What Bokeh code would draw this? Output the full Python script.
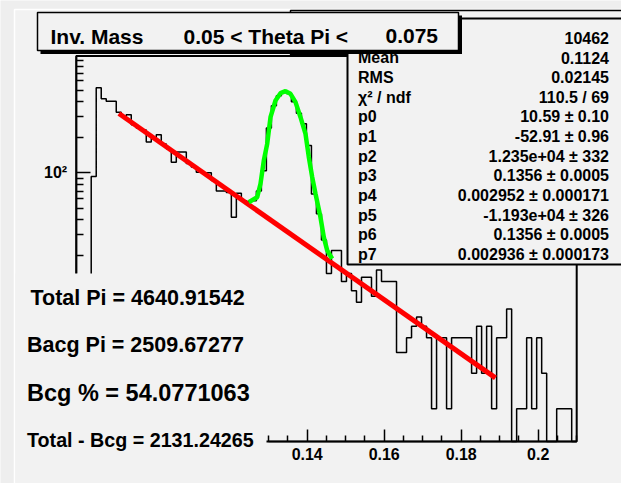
from bokeh.plotting import figure
from bokeh.models import (LinearAxis, LogAxis, FixedTicker, BoxAnnotation, Label, Range1d)
from bokeh.embed import file_html
from bokeh.resources import INLINE

# ---------------- data ----------------
bin_lo, bin_hi, nbins = 0.08, 0.21, 100
counts = [0, 0, 0, 93, 525, 424, 404, 404, 326, 300,
          310, 255, 240, 230, 182, 195, 210, 175, 160, 123,
          150, 150, 120, 112, 101, 100, 100, 86, 70, 70,
          68, 42, 67, 58, 57, 58, 70, 104, 240, 370,
          450, 480, 470, 400, 320, 260, 170, 66, 45, 27,
          14, 22, 22, 12, 14, 10, 8, 13, 13, 9,
          15, 12, 12, 12, 3, 3, 4, 5, 6, 5,
          4, 1, 4, 4, 1, 4, 4, 4, 4, 2,
          5, 2, 5, 1, 4, 4, 7, 0, 1, 1,
          4, 1, 4, 2, 0, 0, 1, 1, 1, 0]

# background fit (red)
bg_x = [0.0911, 0.1889]
bg_y = [318, 1.83]

# total fit (green)
peak_x = [0.12483, 0.12701, 0.12787, 0.12873, 0.12961, 0.13047, 0.13177, 0.13306,
          0.13436, 0.13566, 0.13696, 0.13826, 0.13956, 0.14042, 0.1413, 0.14216,
          0.14345, 0.14431, 0.14519, 0.14649]
peak_y = [56.3, 62.1, 80.7, 127, 176, 296, 410, 473,
          492, 467, 397, 296, 214, 136, 91.8, 66.4,
          42, 28.5, 22, 18.7]

# axes
x_major = [0.14, 0.16, 0.18, 0.2]
x_labels = ["0.14", "0.16", "0.18", "0.2"]
x_minor = [0.13, 0.135, 0.145, 0.15, 0.155, 0.165, 0.17, 0.175,
           0.185, 0.19, 0.195, 0.205, 0.21]
y_major = [100]
y_labels = ["10\u00b2"]
y_minor = [20, 30, 40, 50, 60, 70, 80, 90, 200, 300, 400, 500, 600, 700, 800, 900]

title_parts = ["Inv. Mass", "0.05 < Theta Pi <", "0.075"]

stat_labels = ["Entries", "Mean", "RMS", "\u03c7\u00b2 / ndf", "p0", "p1", "p2", "p3",
               "p4", "p5", "p6", "p7"]
stat_values = ["10462", "0.1124", "0.02145", "110.5 / 69", "10.59 \u00b1 0.10",
               "-52.91 \u00b1 0.96", "1.235e+04 \u00b1 332", "0.1356 \u00b1 0.0005",
               "0.002952 \u00b1 0.000171", "-1.193e+04 \u00b1 326", "0.1356 \u00b1 0.0005",
               "0.002936 \u00b1 0.000173"]

notes = ["Total Pi = 4640.91542", "Bacg Pi = 2509.67277",
         "Bcg % = 54.0771063", "Total - Bcg = 2131.24265"]

# ---------------- layout (pixels of the 621x483 canvas) ----------------
W, H = 621, 483
PX0, PXU = 75.7, 3850.0          # pixel of x=0.08, pixels per unit
PY1, PYD = 408.3, 118.0          # pixel of y=1, pixels per decade
x_start = bin_lo - PX0 / PXU
x_end = x_start + W / PXU
y_end = 10 ** (PY1 / PYD)
y_start = 10 ** (-(H - PY1) / PYD)


def dx(px):
    return x_start + px / PXU


def dy(py):
    return 10 ** ((PY1 - py) / PYD)


def ty(baseline_py, size):
    # empirical correction of the text baseline
    return dy(baseline_py - 0.33 * size)


frame_bottom = dy(441)
frame_top = dy(55.5)

OUTER = "#eeeeee"
INNER = "#f2f2f2"
FONT = "Liberation Sans"

p = figure(width=W, height=H, x_range=Range1d(x_start, x_end),
           y_range=Range1d(y_start, y_end), y_axis_type="log",
           x_axis_location=None, y_axis_location=None,
           toolbar_location=None, min_border=0, output_backend="svg",
           background_fill_color=OUTER, border_fill_color=OUTER,
           outline_line_color=None)
p.xgrid.grid_line_color = None
p.ygrid.grid_line_color = None


def box(l, r, t, b, fill=INNER, line="black", lw=1.5, level="annotation", line_alpha=1.0):
    return BoxAnnotation(left=dx(l), right=dx(r), top=dy(t), bottom=dy(b),
                         fill_color=fill, fill_alpha=1 if fill else 0,
                         line_color=line, line_alpha=line_alpha if line else 0,
                         line_width=lw, level=level)


# inner canvas panel
p.add_layout(box(14, W + 20, 9, H + 20, line="white", lw=1.5, level="underlay"))

# histogram
edges = [bin_lo + i * (bin_hi - bin_lo) / nbins for i in range(nbins + 1)]
hv = [c if c > 0 else frame_bottom for c in counts] + [frame_bottom]
p.step(x=edges, y=hv, mode="after", line_color="black", line_width=1.5)

# fits
p.line(bg_x, bg_y, line_color="#ff0000", line_width=5)
p.line(peak_x, peak_y, line_color="#00ff00", line_width=4.5)

# axes
yax = LogAxis(fixed_location=bin_lo, bounds=(dy(273), frame_top),
              ticker=FixedTicker(ticks=y_major, minor_ticks=y_minor),
              major_label_overrides=dict(zip(y_major, y_labels)),
              axis_line_width=1.5, major_tick_line_width=1.5, minor_tick_line_width=1.5,
              major_tick_in=14, major_tick_out=0, minor_tick_in=7, minor_tick_out=0,
              major_label_standoff=9, major_label_text_font=FONT,
              major_label_text_font_style="bold", major_label_text_font_size="16px",
              major_label_text_color="black")
p.add_layout(yax, "left")
xax = LinearAxis(fixed_location=frame_bottom, bounds=(0.13, bin_hi),
                 ticker=FixedTicker(ticks=x_major, minor_ticks=x_minor),
                 major_label_overrides=dict(zip(x_major, x_labels)),
                 axis_line_width=1.5, major_tick_line_width=1.5, minor_tick_line_width=1.5,
                 major_tick_in=12, major_tick_out=0, minor_tick_in=6, minor_tick_out=0,
                 major_label_standoff=6, major_label_text_font=FONT,
                 major_label_text_font_style="bold", major_label_text_font_size="16px",
                 major_label_text_color="black")
p.add_layout(xax, "below")

# frame
frame = BoxAnnotation(left=bin_lo, right=bin_hi, bottom=frame_bottom, top=frame_top,
                      fill_alpha=0, line_color="black", line_alpha=1, line_width=2)
p.add_layout(frame)

# text pave (covers the lower left of the frame)
p.add_layout(box(15, 266, 273, H + 20, line=None))
note_y = [305, 351.5, 400, 446.5]
note_x = [30, 26.5, 26.5, 26.5]
note_size = [21.5, 21.5, 23.5, 19.7]
for t, xx, yy, fs in zip(notes, note_x, note_y, note_size):
    p.add_layout(Label(x=dx(xx), y=ty(yy, fs), text=t, text_font=FONT, text_font_style="bold",
                       text_font_size=f"{fs}px", text_baseline="alphabetic",
                       text_color="black"))

# hidden pave behind the stats box
p.add_layout(box(290, W + 30, 10, 54, lw=1.5))

# stats box
p.add_layout(box(347, W + 30, 18, 264, lw=2))
SF = 16
for i, (lab, val) in enumerate(zip(stat_labels, stat_values)):
    yy = ty(42.7 + 19.7 * i, SF)
    p.add_layout(Label(x=dx(357.5), y=yy, text=lab, text_font=FONT, text_font_style="bold",
                       text_font_size=f"{SF}px", text_baseline="alphabetic",
                       text_color="black"))
    p.add_layout(Label(x=dx(608.5), y=yy, text=val, text_font=FONT, text_font_style="bold",
                       text_font_size=f"{SF}px", text_baseline="alphabetic",
                       text_align="right", text_color="black"))

# title box with shadow
p.add_layout(box(40, 461.5, 15, 53.5, fill="black", line=None))
p.add_layout(box(37, 458, 12, 50, lw=1.5))
title_x = [50, 183, 385]
TF = 21
for t, xx in zip(title_parts, title_x):
    p.add_layout(Label(x=dx(xx), y=ty(42.5, TF), text=t, text_font=FONT,
                       text_font_style="bold", text_font_size=f"{TF}px",
                       text_baseline="alphabetic", text_color="black"))

open("out.html", "w").write(file_html(p, INLINE))
